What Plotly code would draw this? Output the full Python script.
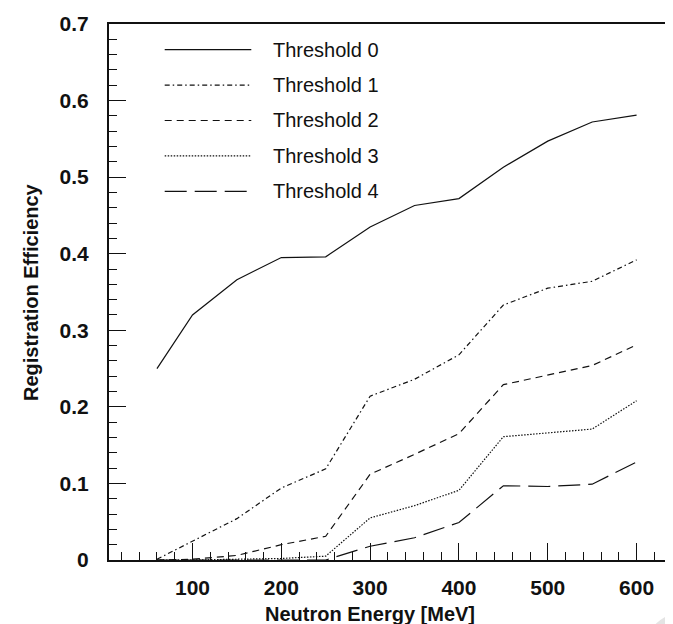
import plotly.graph_objects as go

energy = [60, 100, 150, 200, 250, 300, 350, 400, 450, 500, 550, 600]
threshold_0 = [0.250, 0.320, 0.366, 0.395, 0.396, 0.435, 0.463, 0.472, 0.513, 0.547, 0.572, 0.581]
threshold_1 = [0.001, 0.025, 0.054, 0.094, 0.119, 0.214, 0.236, 0.268, 0.333, 0.355, 0.364, 0.392]
threshold_2 = [0.000, 0.001, 0.006, 0.020, 0.031, 0.112, 0.138, 0.165, 0.229, 0.242, 0.254, 0.281]
threshold_3 = [0.000, 0.000, 0.001, 0.002, 0.005, 0.055, 0.071, 0.091, 0.161, 0.166, 0.171, 0.208]
threshold_4 = [0.000, 0.000, 0.000, 0.000, 0.000, 0.018, 0.029, 0.049, 0.097, 0.096, 0.099, 0.128]

series_names = ["Threshold 0", "Threshold 1", "Threshold 2", "Threshold 3", "Threshold 4"]
series_values = [threshold_0, threshold_1, threshold_2, threshold_3, threshold_4]
dash_styles = ["solid", "5px,3px,1.5px,3px", "7px,5px", "1.5px,1.5px", "22px,8px"]

x_ticks = [100, 200, 300, 400, 500, 600]
y_ticks = [0, 0.1, 0.2, 0.3, 0.4, 0.5, 0.6, 0.7]
y_tick_labels = ["0", "0.1", "0.2", "0.3", "0.4", "0.5", "0.6", "0.7"]

W, H = 673, 624
L, R, T, B = 101, 0, 16, 72

fig = go.Figure()
for name, vals, dash in zip(series_names, series_values, dash_styles):
    fig.add_trace(go.Scatter(x=energy, y=vals, mode="lines", name=name,
                             line=dict(color="#111111", width=1.2, dash=dash),
                             showlegend=False, cliponaxis=True))

pw = W - L - R
ph = H - T - B

def px(xp):
    return (xp - L) / pw

def py(yp):
    return (H - B - yp) / ph

shapes = []
annotations = []
row_y = [41.7, 77.1, 112.5, 147.9, 183.3]
for name, dash, yy in zip(series_names, dash_styles, row_y):
    shapes.append(dict(type="line", xref="paper", yref="paper",
                       x0=px(156.7), x1=px(243.3), y0=py(yy), y1=py(yy),
                       line=dict(color="#111111", width=1.2, dash=dash)))
    annotations.append(dict(xref="paper", yref="paper", x=px(263), y=py(yy),
                            xanchor="left", yanchor="middle", text=name, showarrow=False,
                            font=dict(family="Liberation Sans, Arial", size=20, color="#111111")))

# watermark fragments (light grey) at bottom right
shapes.append(dict(type="path", xref="paper", yref="paper", layer="below",
                   path="M %f %f L %f %f L %f %f Z" % (px(674), py(566), px(659), py(582), px(674), py(600)),
                   fillcolor="#e4e4e4", line=dict(width=0)))
shapes.append(dict(type="path", xref="paper", yref="paper", layer="below",
                   path="M %f %f Q %f %f %f %f L %f %f Z" % (px(640), py(625), px(652), py(607), px(674), py(603), px(674), py(625)),
                   fillcolor="#e4e4e4", line=dict(width=0)))

annotations.append(dict(xref="x", yref="paper", x=300, y=py(606), xanchor="center", yanchor="middle",
                        text="Neutron Energy [MeV]", showarrow=False,
                        font=dict(family="Liberation Sans, Arial", size=20, color="#111111", weight="bold")))
annotations.append(dict(xref="paper", yref="paper", x=px(23), y=py(284), xanchor="center", yanchor="middle",
                        text="Registration Efficiency", showarrow=False, textangle=-90,
                        font=dict(family="Liberation Sans, Arial", size=20, color="#111111", weight="bold")))

tickfont = dict(family="Liberation Sans, Arial", size=21, color="#111111", weight="bold")

fig.update_layout(
    width=W, height=H, autosize=False,
    margin=dict(l=L, r=R, t=T, b=B, pad=0),
    paper_bgcolor="white", plot_bgcolor="white",
    shapes=shapes, annotations=annotations, showlegend=False,
    xaxis=dict(range=[6, 650], tickvals=x_ticks, ticks="inside", ticklen=17, tickwidth=1.3,
               tickcolor="#111111", showline=True, linecolor="#111111", linewidth=2, mirror=True,
               showgrid=False, zeroline=False, tickfont=tickfont, ticklabelstandoff=8,
               minor=dict(dtick=20, tick0=0, ticks="inside", ticklen=8, tickwidth=1.3,
                          tickcolor="#111111", showgrid=False)),
    yaxis=dict(range=[0, 0.7], tickvals=y_ticks, ticktext=y_tick_labels, ticks="inside", ticklen=17,
               tickwidth=1.3, tickcolor="#111111", showline=True, linecolor="#111111", linewidth=2,
               showgrid=False, zeroline=False, tickfont=tickfont, ticklabelstandoff=14,
               minor=dict(dtick=0.02, tick0=0, ticks="inside", ticklen=8, tickwidth=1.3,
                          tickcolor="#111111", showgrid=False)),
)

fig.write_html("out.html")
